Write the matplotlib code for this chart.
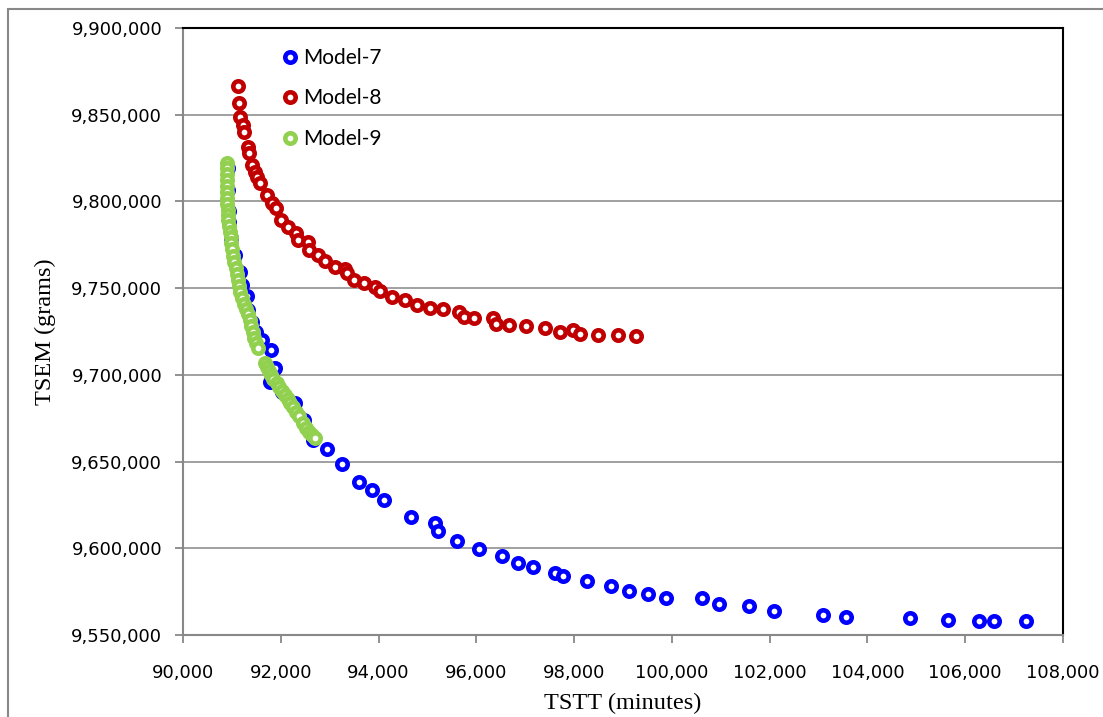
import matplotlib
matplotlib.use("Agg")
import matplotlib.pyplot as plt
import matplotlib.patches as patches
from matplotlib.ticker import FuncFormatter, MultipleLocator

# Model-7 (blue)
m7_tstt = [90920, 90930, 90941, 90941, 90982, 91064, 91166, 91207, 91309, 91330,
           91411, 91493, 91616, 91800, 91882, 91780, 92025, 92291, 92475,
           92665, 92939, 93258, 93606, 93872, 94117, 94664, 95155, 95222, 95598,
           96055, 96531, 96846, 97153, 97609, 97779, 98257, 98748, 99129, 99505,
           99886, 100610, 100964, 101577, 102095, 103097, 103555, 104870, 105654,
           106282, 106589, 107243]
m7_tsem = [9819300, 9806600, 9794500, 9788100, 9778900, 9769100, 9759300, 9751800,
           9745500, 9737400, 9730500, 9724700, 9720100, 9714300, 9704000, 9695900,
           9690100, 9683800, 9674000,
           9662400, 9657100, 9648400, 9638400, 9633600, 9627800, 9618200, 9614400,
           9610000, 9604400, 9599600, 9595700, 9591700, 9589000, 9585900, 9584000,
           9581100, 9578400, 9575400, 9573500, 9571600, 9571500, 9567700, 9566700,
           9563800, 9561500, 9560600, 9559600, 9558600, 9558100, 9558100, 9558100]

# Model-8 (red)
m8_tstt = [91120, 91145, 91160, 91220, 91254, 91323, 91356, 91417, 91473, 91520,
           91575, 91712, 91814, 91902, 92005, 92154, 92311, 92358, 92563, 92583,
           92767, 92905, 93109, 93314, 93348, 93498, 93702, 93927, 94030, 94281,
           94535, 94780, 95052, 95324, 95652, 95748, 95952, 96335, 96396, 96674,
           97016, 97405, 97711, 97983, 98120, 98495, 98904, 99260]
m8_tsem = [9866700, 9856600, 9848900, 9844100, 9840200, 9831200, 9828100, 9821000,
           9817100, 9814300, 9810500, 9803700, 9798900, 9796000, 9789300, 9785400,
           9781600, 9777800, 9776800, 9772000, 9769100, 9765800, 9762000, 9760900,
           9758600, 9754700, 9753100, 9750800, 9748500, 9745100, 9743200, 9740300,
           9738400, 9737800, 9736400, 9733200, 9732600, 9732600, 9729300, 9728700,
           9728200, 9726800, 9724900, 9725900, 9723600, 9723000, 9723000, 9722400]

# Model-9 (green)
m9_tstt = [90894, 90894, 90900, 90900, 90900, 90900, 90906, 90910, 90920, 90920,
           90927, 90941, 90961, 90972, 90992, 91012, 91029, 91053, 91074, 91098,
           91115, 91145, 91176, 91207, 91248, 91289, 91330, 91370, 91401, 91432,
           91462, 91503, 91540,
           91677, 91718, 91759, 91800, 91841, 91917, 91964, 92025, 92086, 92148,
           92189, 92250, 92311, 92373, 92455, 92516, 92577, 92639, 92700]
m9_tsem = [9822200, 9819300, 9815800, 9812400, 9808900, 9805400, 9802000, 9798500,
           9795100, 9792200, 9789300, 9785800, 9782400, 9779500, 9776000, 9772600,
           9768500, 9765100, 9761600, 9758200, 9754700, 9751200, 9747800, 9744300,
           9740900, 9738000, 9735100, 9731600, 9728200, 9724700, 9721300, 9718400,
           9715500,
           9706800, 9704500, 9702200, 9699900, 9697600, 9695300, 9693000, 9690700,
           9688400, 9686100, 9683800, 9681500, 9678600, 9676300, 9672200, 9669400,
           9667000, 9665300, 9663600]

fig = plt.figure(figsize=(11.03, 7.17), dpi=100)
ax = fig.add_axes([183 / 1103, 1 - 635 / 717, 880 / 1103, 607 / 717])

mk = dict(linestyle="none", marker="o", markersize=7.5, markeredgewidth=3.3,
          markerfacecolor="white")
ax.plot(m7_tstt, m7_tsem, markeredgecolor="#0000ff", label="Model-7", **mk)
ax.plot(m8_tstt, m8_tsem, markeredgecolor="#c00000", label="Model-8", **mk)
ax.plot(m9_tstt, m9_tsem, markeredgecolor="#92d050", label="Model-9", **mk)

ax.set_xlim(90000, 108000)
ax.set_ylim(9550000, 9900000)
ax.xaxis.set_major_locator(MultipleLocator(2000))
ax.yaxis.set_major_locator(MultipleLocator(50000))
fmt = FuncFormatter(lambda v, p: f"{int(round(v)):,}")
ax.xaxis.set_major_formatter(fmt)
ax.yaxis.set_major_formatter(fmt)

ax.grid(axis="y", color="#999999", linewidth=1.3)
ax.set_axisbelow(True)
for s in ["top", "right"]:
    ax.spines[s].set_color("black")
    ax.spines[s].set_linewidth(1.5)
for s in ["left", "bottom"]:
    ax.spines[s].set_color("#888888")
    ax.spines[s].set_linewidth(1.5)
ax.tick_params(direction="out", length=6, width=1.3, color="#888888",
               labelsize=13, pad=9)
ax.tick_params(axis="x", pad=15)

ax.set_xlabel("TSTT (minutes)", family="Liberation Serif", fontsize=17.5, labelpad=8)
ax.set_ylabel("TSEM (grams)", family="Liberation Serif", fontsize=17.5, labelpad=11)

leg = ax.legend(loc="upper left", bbox_to_anchor=(0.091, 0.998), frameon=False,
                numpoints=1, handlelength=0.8, handletextpad=0.2,
                labelspacing=0.98, prop={"family": "Lato", "size": 15})

# outer chart border
fig.add_artist(patches.Rectangle((8 / 1103, -0.1), 1.2, 1.1 - 9 / 717,
                                 transform=fig.transFigure, fill=False,
                                 edgecolor="#888888", linewidth=1.5))

fig.savefig("out.png", dpi=100)
